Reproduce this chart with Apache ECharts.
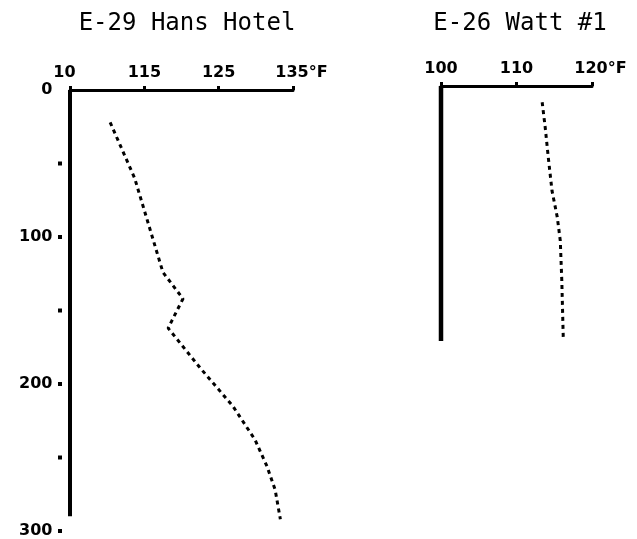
<!DOCTYPE html>
<html><head><meta charset="utf-8">
<script src="https://cdn.jsdelivr.net/npm/echarts@6/dist/echarts.min.js"></script>
<style>html,body{margin:0;padding:0;background:#fff}#c{width:637px;height:539px}</style>
</head><body><div id="c"></div>
<script>
// ---- data ----
const titles = ['E-29 Hans Hotel', 'E-26 Watt #1'];
const leftTempTicks = [105, 115, 125, 135];
const leftTickLabels = ['10', '115', '125', '135°F'];
const rightTempTicks = [100, 110, 120];
const rightTickLabels = ['100', '110', '120°F'];
const depthTicks = [0, 50, 100, 150, 200, 250, 300];
const depthLabels = ['0', '', '100', '', '200', '', '300'];

// E-29 Hans Hotel: temperature (°F) vs depth
const leftTemp  = [110.4, 113.7, 117.5, 120.2, 118.2, 122.5, 126.9, 129.9, 131.5, 132.6, 133.3];
const leftDepth = [22, 60, 124, 142, 162, 189, 215, 238, 256, 272, 292];
// E-26 Watt #1
const rightTemp  = [113.4, 113.8, 114.2, 114.7, 115.4, 115.8, 116.0, 116.2];
const rightDepth = [11, 28, 48, 71, 89, 105, 132, 172];

// well (vertical axis line) extents
const leftWellDepth = [0, 290];
const rightWellDepth = [0, 173];

// ---- chart ----
const FONT = 'DejaVu Sans';
const tickRich = {
  t: {fontFamily: FONT, fontWeight: 'bold', fontSize: 16, color: '#000'},
  p: {width: 17, height: 10},
  q: {width: 11, height: 10}
};
function xFmt(ticks, labels) {
  return function (v) {
    const i = ticks.indexOf(v);
    if (i < 0) return '';
    const s = labels[i];
    if (s.indexOf('°F') >= 0) return '{p|}{t|' + s + '}';
    if (i === 0 && s.length < 3) return '{t|' + s + '}{q|}';
    return '{t|' + s + '}';
  };
}
function yFmt(v) {
  const i = depthTicks.indexOf(v);
  if (i < 0) return '';
  const s = depthLabels[i];
  if (v === 0) return '{t|' + s + ' }{n|}';
  return '{t|' + s + ' }{d|}';
}
const yRich = {
  t: {fontFamily: FONT, fontWeight: 'bold', fontSize: 16, color: '#000'},
  d: {width: 4, height: 4, backgroundColor: '#000', verticalAlign: 'middle'},
  n: {width: 4, height: 4}
};

const chart = echarts.init(document.getElementById('c'), null, {renderer: 'canvas'});
const dashed = {color: '#000', width: 3, type: [4, 4]};
chart.setOption({
  backgroundColor: '#fff',
  animation: false,
  title: [
    {text: titles[0], left: 187, top: 12, textAlign: 'center', padding: 0,
     textStyle: {fontFamily: 'DejaVu Sans Mono', fontWeight: 'normal', fontSize: 24, color: '#000'}},
    {text: titles[1], left: 520, top: 12, textAlign: 'center', padding: 0,
     textStyle: {fontFamily: 'DejaVu Sans Mono', fontWeight: 'normal', fontSize: 24, color: '#000'}}
  ],
  grid: [
    {left: 70, top: 90, width: 223, height: 442},
    {left: 441, top: 86, width: 151, height: 442}
  ],
  xAxis: [
    {gridIndex: 0, type: 'value', position: 'top', min: 105, max: 135, interval: 10,
     axisLine: {show: true, lineStyle: {color: '#000', width: 3}},
     axisTick: {show: true, length: 4, lineStyle: {color: '#000', width: 3}},
     splitLine: {show: false},
     axisLabel: {margin: 9, formatter: xFmt(leftTempTicks, leftTickLabels), rich: tickRich, showMinLabel: true, showMaxLabel: true}},
    {gridIndex: 1, type: 'value', position: 'top', min: 100, max: 120, interval: 10,
     axisLine: {show: true, lineStyle: {color: '#000', width: 3}},
     axisTick: {show: true, length: 4, lineStyle: {color: '#000', width: 3}},
     splitLine: {show: false},
     axisLabel: {margin: 9, formatter: xFmt(rightTempTicks, rightTickLabels), rich: tickRich, showMinLabel: true, showMaxLabel: true}}
  ],
  yAxis: [
    {gridIndex: 0, type: 'value', inverse: true, min: 0, max: 300, interval: 50,
     axisLine: {show: false}, axisTick: {show: false}, splitLine: {show: false},
     axisLabel: {margin: 8, formatter: yFmt, rich: yRich}},
    {gridIndex: 1, type: 'value', inverse: true, min: 0, max: 300, interval: 50,
     axisLine: {show: false}, axisTick: {show: false}, splitLine: {show: false},
     axisLabel: {show: false}}
  ],
  series: [
    {type: 'line', xAxisIndex: 0, yAxisIndex: 0, symbol: 'none', clip: false,
     lineStyle: {color: '#000', width: 4},
     data: leftWellDepth.map(d => [leftTempTicks[0], d])},
    {type: 'line', xAxisIndex: 1, yAxisIndex: 1, symbol: 'none', clip: false,
     lineStyle: {color: '#000', width: 4.5},
     data: rightWellDepth.map(d => [rightTempTicks[0], d])},
    {type: 'line', xAxisIndex: 0, yAxisIndex: 0, symbol: 'none', lineStyle: dashed,
     data: leftTemp.map((t, i) => [t, leftDepth[i]])},
    {type: 'line', xAxisIndex: 1, yAxisIndex: 1, symbol: 'none', lineStyle: dashed,
     data: rightTemp.map((t, i) => [t, rightDepth[i]])}
  ]
});
</script></body></html>
